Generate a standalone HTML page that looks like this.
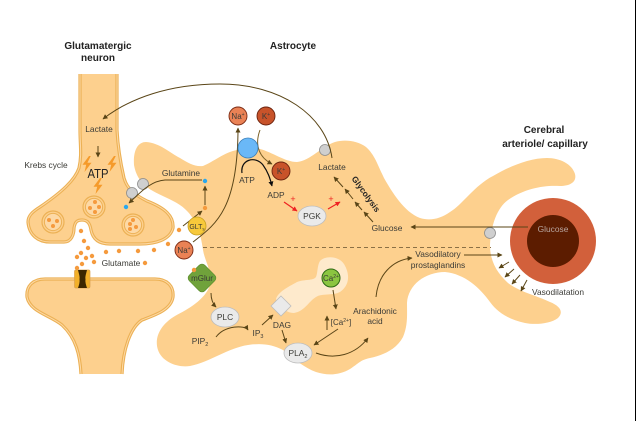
<!DOCTYPE html>
<html><head><meta charset="utf-8"><style>
html,body{margin:0;padding:0;background:#fff}
svg{display:block}
text{font-family:"Liberation Sans",sans-serif;font-size:8.4px;fill:#3a3a36;text-anchor:middle}
.b{font-weight:bold;font-size:10px;fill:#222}
.a{fill:none;stroke:#5a4518;stroke-width:1;marker-end:url(#m)}
.k{fill:none;stroke:#111;stroke-width:1.2;marker-end:url(#mk)}
.r{fill:none;stroke:#ee2222;stroke-width:1.2;marker-end:url(#mr)}
.g{fill:#cfcfcf;stroke:#8c8c8c;stroke-width:.8}
.e{fill:#eaeaea;stroke:#bdbdbd;stroke-width:.8}
.d{fill:#f59a3c}
.l{fill:#f59a2a}
</style></head><body>
<svg width="636" height="422" viewBox="0 0 636 422" xmlns="http://www.w3.org/2000/svg">
<defs>
<filter id="soft" x="0" y="0" width="100%" height="100%"><feGaussianBlur stdDeviation="0.35"/></filter>
<marker id="m" markerUnits="userSpaceOnUse" markerWidth="6" markerHeight="6" refX="4.5" refY="2.5" orient="auto"><path d="M0 0L5 2.5L0 5Z" fill="#5a4518"/></marker>
<marker id="mk" markerUnits="userSpaceOnUse" markerWidth="6" markerHeight="6" refX="4.5" refY="2.5" orient="auto"><path d="M0 0L5 2.5L0 5Z" fill="#111"/></marker>
<marker id="mr" markerUnits="userSpaceOnUse" markerWidth="6" markerHeight="6" refX="4.5" refY="2.5" orient="auto"><path d="M0 0L5 2.5L0 5Z" fill="#ee2222"/></marker>
<g id="v"><circle r="11" fill="#fdd08e" stroke="#ecb155" stroke-width="1.2"/><circle r="8.6" fill="#fdd9a6" stroke="#ecb155" stroke-width="1"/></g>
<path id="bolt" d="M2 -8L-4.500 0.800L-0.800 0.800L-2.500 8L4.500 -1.300L0.400 -1.300L3.800 -8Z"/>
</defs>
<g filter="url(#soft)">
<!-- astrocyte -->
<path fill="#fdd08e" d="M134 165C133 150 138 142 146 142C160 143 170 153 180 158C188 163 195 167 203 166C213 162 225 152 237 150C245 148 252 147 260 149C272 152 285 162 297 162C310 161 322 146 335 142C345 139 358 141 366 147C375 155 378 166 384 178C392 192 404 212 420 218C430 221 440 219 450 212C462 205 475 185 493 176C510 166 530 158 547 158C560 158 572 164 575 174C577 182 570 186 560 186C545 185 525 188 508 200C497 208 491 225 490 245C490 260 496 272 508 283C520 292 535 295 550 302C560 306 564 312 558 318C550 324 535 325 525 323C510 320 498 313 490 302C480 288 465 274 445 272C425 272 408 285 407 303C407 315 408 325 403 337C396 350 383 355 370 358C360 360 358 364 350 369C340 375 328 376 316 372C305 368 295 360 283 350C272 344 260 343 248 345C228 348 210 362 190 366C178 368 162 362 158 350C154 338 160 325 175 316C188 309 205 300 210 285C212 270 205 262 203 250C201 235 197 222 188 212C175 197 150 195 140 180C136 174 135 170 134 165Z"/>
<!-- ER -->
<path fill="#feeacc" d="M320 261C324 256 338 255 344 264C350 274 350 285 340 292C332 296 322 293 316 297C308 302 305 311 294 313C285 313 278 305 276 299C278 292 288 287 297 282C305 279 313 281 316 277C318 272 317 266 320 261Z"/>
<line x1="203" y1="247.5" x2="491" y2="247.5" stroke="#8b6f45" stroke-width="1" stroke-dasharray="4 3"/>

<!-- neurons -->
<path fill="#fdd08e" stroke="#ecb155" stroke-width="3.2" d="M80 74L80 130C80 145 82 155 79 168C75 180 62 192 40 207C32 212 28 216 28 222C29 235 38 242 50 242L64 242C71 242 74 235 74 228C75 221 78 220 82 220C88 220 90 224 91 230C93 240 100 244 110 244L140 244C155 244 170 240 173 228C174 216 165 208 147 201C135 195 127 189 124 178C121 165 118 150 117 130L117 74"/>
<path fill="none" stroke="#fdd9a6" stroke-width="1" d="M80 74L80 130C80 145 82 155 79 168C75 180 62 192 40 207C32 212 28 216 28 222C29 235 38 242 50 242L64 242C71 242 74 235 74 228C75 221 78 220 82 220C88 220 90 224 91 230C93 240 100 244 110 244L140 244C155 244 170 240 173 228C174 216 165 208 147 201C135 195 127 189 124 178C121 165 118 150 117 130L117 74"/>
<path fill="#fdd08e" stroke="#ecb155" stroke-width="3.2" d="M81 374C80 355 76 338 62 325C50 315 30 312 27 297C26 286 33 279 45 279L155 279C167 279 174 286 173 297C171 310 155 315 142 320C130 328 123 350 122 374"/>
<path fill="none" stroke="#fdd9a6" stroke-width="1" d="M81 374C80 355 76 338 62 325C50 315 30 312 27 297C26 286 33 279 45 279L155 279C167 279 174 286 173 297C171 310 155 315 142 320C130 328 123 350 122 374"/>

<!-- vesicles -->
<use href="#v" x="53" y="222"/><use href="#v" x="94" y="207"/><use href="#v" x="133" y="225"/>
<g class="d">
<circle cx="49" cy="220" r="2"/><circle cx="57" cy="221" r="2"/><circle cx="53" cy="226" r="2"/>
<circle cx="95" cy="202" r="2"/><circle cx="90" cy="208" r="2"/><circle cx="99" cy="207" r="2"/><circle cx="95" cy="212" r="2"/>
<circle cx="133" cy="220" r="2"/><circle cx="130" cy="224" r="2"/><circle cx="136" cy="227" r="2"/><circle cx="130" cy="229" r="2"/>
<circle cx="81" cy="231" r="2.2"/><circle cx="84" cy="241" r="2.2"/><circle cx="88" cy="248" r="2.2"/><circle cx="81" cy="253" r="2.2"/><circle cx="77" cy="257" r="2.2"/><circle cx="86" cy="258" r="2.2"/><circle cx="92" cy="256" r="2.2"/><circle cx="94" cy="262" r="2.2"/><circle cx="82" cy="264" r="2.2"/><circle cx="77" cy="268" r="2.2"/><circle cx="106" cy="252" r="2.2"/><circle cx="119" cy="251" r="2.2"/><circle cx="138" cy="251" r="2.2"/><circle cx="154" cy="250" r="2.2"/><circle cx="168" cy="244" r="2.2"/><circle cx="179" cy="230" r="2.2"/><circle cx="145" cy="263" r="2.2"/>
</g>

<!-- channel -->
<rect x="74.500" y="270" width="15.500" height="18" rx="1.500" fill="#f2b02c" stroke="#d9a050" stroke-width=".7"/>
<path d="M78 270L87 270C86 274 85 277 85.500 279C85 282 86 285 87 288L78 288C79 285 80 282 79.500 279C80 277 79 274 78 270Z" fill="#3a2705"/>

<!-- bolts -->
<use href="#bolt" x="87" y="164" class="l"/><use href="#bolt" x="112" y="164" class="l"/><use href="#bolt" x="98" y="186" class="l"/>

<!-- transporters -->
<circle cx="132" cy="193" r="5.500" class="g"/><circle cx="143" cy="184" r="5.500" class="g"/>
<circle cx="325" cy="150" r="5.500" class="g"/><circle cx="490" cy="233" r="5.500" class="g"/>
<circle cx="126" cy="207" r="2.200" fill="#2aa8ee"/><circle cx="205" cy="181" r="2.200" fill="#2aa8ee"/><circle cx="205" cy="208" r="2.200" class="d"/>

<!-- vessel -->
<circle cx="553" cy="241" r="43" fill="#d2603a"/><circle cx="553" cy="241" r="26" fill="#5c1a00"/>
<text x="553" y="232" style="fill:#b9a8a0">Glucose</text>

<!-- connectors -->
<path class="a" d="M332 158C326 115 280 84 220 84C170 84 130 98 103 119"/>
<path class="a" d="M98 146L98 157"/>
<path class="a" d="M202 180L165 180C150 181 140 193 129 203"/>
<path class="a" d="M205 205L205 186"/>
<path class="a" d="M183 226L202 211"/>
<path class="a" d="M193 242C215 225 238 210 238 128"/>
<path class="a" d="M260 130C254 146 260 158 272 164" style="stroke:#7a5f25"/>
<path class="k" d="M242 173C240 160 255 155 263 165C268 172 270 178 272 186"/>
<path class="r" d="M284 202L297 211"/><path class="r" d="M328 209L340 202"/>
<path class="a" d="M373 222L364 212"/><path class="a" d="M362 210L355 202"/><path class="a" d="M353 199L345 189"/><path class="a" d="M343 187L334 177"/>
<path class="a" d="M528 227L411 227"/>
<path class="a" d="M464 255L502 255"/>
<path class="a" d="M509 262L499 268"/><path class="a" d="M514 269L505 277"/><path class="a" d="M520 275L512 284"/><path class="a" d="M527 280L521 291"/>
<path class="a" d="M376 297C378 275 392 260 412 258"/>
<path class="a" d="M316 353C335 360 355 355 368 338"/>
<path class="a" d="M211 293C211 300 213 304 216 307"/>
<path class="a" d="M216 337C225 325 245 325 248 330"/>
<path class="a" d="M262 325L273 315"/>
<path class="a" d="M282 330L286 343"/>
<path class="a" d="M333 290L336 309"/>
<path class="a" d="M338 329L314 345"/>
<path class="a" d="M327 330L327 316"/>

<!-- nodes -->
<circle cx="248" cy="148" r="10" fill="#6ab8f7" stroke="#3a7fb8" stroke-width=".8"/>
<circle cx="238" cy="116" r="9" fill="#ea8255" stroke="#7a2a12" stroke-width=".9"/>
<circle cx="266" cy="116" r="9" fill="#c8532b" stroke="#6b2410" stroke-width=".9"/>
<circle cx="281" cy="171" r="9" fill="#c8532b" stroke="#6b2410" stroke-width=".9"/>
<circle cx="184" cy="250" r="9" fill="#ea8255" stroke="#7a2a12" stroke-width=".9"/>
<circle cx="197" cy="226" r="9" fill="#f7c93a" stroke="#c7a021" stroke-width=".8"/>
<circle cx="331" cy="278" r="9" fill="#8bc53f" stroke="#2f6a14" stroke-width="1"/>
<rect x="191" y="267" width="22" height="22" rx="4" transform="rotate(45 202 278)" fill="#6fa23a" stroke="#5a8a2c" stroke-width=".6"/>
<circle cx="194" cy="270" r="2.200" class="d"/>
<ellipse cx="225" cy="317" rx="14" ry="10" class="e"/>
<ellipse cx="298" cy="353" rx="14" ry="10" class="e"/>
<ellipse cx="312" cy="216" rx="14" ry="10" class="e"/>
<path d="M281 296L291 306L281 316L271 306Z" class="e"/>

<!-- labels -->
<text x="98" y="49" class="b">Glutamatergic</text><text x="98" y="61" class="b">neuron</text>
<text x="293" y="49" class="b">Astrocyte</text>
<text x="544" y="133" class="b">Cerebral</text><text x="545" y="147" class="b">arteriole/ capillary</text>
<text x="99" y="132">Lactate</text>
<text x="46" y="168">Krebs cycle</text>
<text x="98" y="178" textLength="21" lengthAdjust="spacingAndGlyphs" style="font-size:12.500px;fill:#222">ATP</text>
<text x="181" y="176">Glutamine</text>
<text x="121" y="266">Glutamate</text>
<text x="238" y="119" style="font-size:8px">Na<tspan dy="-3" font-size="5">+</tspan></text>
<text x="266" y="119" style="font-size:8px">K<tspan dy="-3" font-size="5">+</tspan></text>
<text x="281" y="174" style="font-size:8px">K<tspan dy="-3" font-size="5">+</tspan></text>
<text x="184" y="253" style="font-size:8px">Na<tspan dy="-3" font-size="5">+</tspan></text>
<text x="197" y="229" style="font-size:7px">GLT<tspan dy="1.500" font-size="4.500">s</tspan></text>
<text x="331" y="281" style="font-size:8px">Ca<tspan dy="-3" font-size="5">2+</tspan></text>
<text x="202" y="281" style="font-size:8px">mGlur</text>
<text x="225" y="320">PLC</text>
<text x="298" y="356">PLA<tspan dy="2" font-size="5.500">2</tspan></text>
<text x="312" y="219">PGK</text>
<text x="200" y="344">PIP<tspan dy="2" font-size="5.500">2</tspan></text>
<text x="258" y="336">IP<tspan dy="2" font-size="5.500">3</tspan></text>
<text x="282" y="328">DAG</text>
<text x="341" y="325" style="font-size:8px">[Ca<tspan dy="-3" font-size="5">2+</tspan><tspan dy="3">]</tspan></text>
<text x="375" y="314">Arachidonic</text><text x="375" y="324">acid</text>
<text x="332" y="170">Lactate</text>
<text x="247" y="183">ATP</text>
<text x="276" y="198">ADP</text>
<text x="387" y="231">Glucose</text>
<text x="293" y="202" style="fill:#ee2222;font-size:9px">+</text>
<text x="331" y="202" style="fill:#ee2222;font-size:9px">+</text>
<text x="366" y="197" transform="rotate(54 366 194)" style="font-weight:bold;fill:#222;font-size:8.400px">Glycolysis</text>
<text x="438" y="257">Vasodilatory</text><text x="438" y="268">prostaglandins</text>
<text x="558" y="295">Vasodilatation</text>
</g>
<rect x="635" y="0" width="1" height="421" fill="#000"/>
</svg>
</body></html>
